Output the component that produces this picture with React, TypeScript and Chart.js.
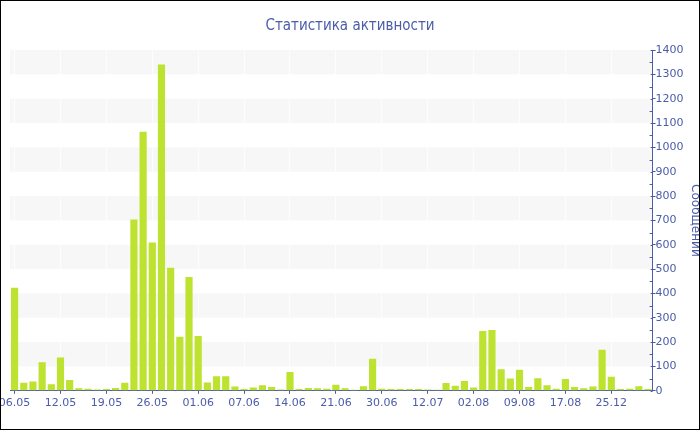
import React, { useEffect, useRef } from 'react';
import { Chart, registerables } from 'chart.js';

Chart.register(...registerables);

const chartTitle = 'Статистика активности';
const yAxisTitle = 'Сообщений';

const tickLabels = [
  '06.05', '12.05', '19.05', '26.05', '01.06', '07.06', '14.06',
  '21.06', '30.06', '12.07', '02.08', '09.08', '17.08', '25.12',
];

const values = [
  423, 33, 38, 117, 27, 137, 44, 10, 8, 5,
  7, 11, 33, 704, 1064, 609, 1340, 505, 222, 467,
  225, 34, 60, 60, 18, 7, 14, 23, 16, 5,
  77, 7, 12, 10, 8, 25, 10, 4, 19, 132,
  8, 7, 7, 7, 7, 5, 4, 32, 21, 40,
  14, 246, 250, 89, 51, 86, 16, 52, 23, 8,
  48, 16, 10, 18, 169, 58, 7, 8, 19, 7,
];

const labelEvery = 5;
const categories = values.map((_, i) => (i % labelEvery === 0 ? tickLabels[i / labelEvery] : ''));

const yMin = 0;
const yMax = 1400;
const yStep = 100;

const blue = '#4b5ca8';
const barColor = '#bde22f';
const bandColor = '#f7f7f7';
const FONT = "'DejaVu Sans', Verdana, sans-serif";
const TITLE_FONT = "'DejaVu Sans Condensed', 'DejaVu Sans', Tahoma, sans-serif";

// canvas is shifted left inside a clipping frame so edge labels get cut like the original
const CANVAS_SHIFT = 20;
const FRAME_W = 698;

const bandsPlugin = {
  id: 'bands',
  beforeDraw(chart: any) {
    const { ctx, chartArea, scales } = chart;
    const y = scales.y;
    ctx.save();
    ctx.fillStyle = bandColor;
    for (let v = yMin + yStep; v < yMax; v += 2 * yStep) {
      const top = y.getPixelForValue(v + yStep);
      const bot = y.getPixelForValue(v);
      ctx.fillRect(chartArea.left, top, chartArea.right - chartArea.left, bot - top);
    }
    ctx.restore();
  },
};

const minorTicksPlugin = {
  id: 'minorTicks',
  afterDraw(chart: any) {
    const { ctx, chartArea, scales } = chart;
    const y = scales.y;
    ctx.save();
    ctx.strokeStyle = blue;
    ctx.lineWidth = 1;
    ctx.beginPath();
    for (let v = yMin; v <= yMax; v += yStep / 2) {
      const py = Math.round(y.getPixelForValue(v)) + 0.5;
      const len = v % yStep === 0 ? 2 : 3;
      ctx.moveTo(chartArea.right - len, py);
      ctx.lineTo(chartArea.right, py);
    }
    ctx.stroke();
    ctx.restore();
  },
};

// title centred on the visible frame
const frameTitlePlugin = {
  id: 'frameTitle',
  afterDraw(chart: any) {
    const { ctx } = chart;
    ctx.save();
    ctx.fillStyle = blue;
    ctx.font = `normal 15px ${TITLE_FONT}`;
    ctx.textAlign = 'center';
    ctx.textBaseline = 'middle';
    ctx.fillText(chartTitle, CANVAS_SHIFT + FRAME_W / 2, 25.5);
    ctx.restore();
  },
};

export default function App() {
  const canvasRef = useRef<HTMLCanvasElement | null>(null);

  useEffect(() => {
    document.body.style.margin = '0';
    const canvas = canvasRef.current;
    if (!canvas) return;
    const chart = new Chart(canvas, {
      type: 'bar',
      data: {
        labels: categories,
        datasets: [
          {
            data: values,
            backgroundColor: barColor,
            borderWidth: 0,
            categoryPercentage: 1,
            barPercentage: 0.78,
          },
        ],
      },
      options: {
        animation: false,
        responsive: true,
        maintainAspectRatio: false,
        layout: { padding: { left: 29, right: 0, top: 49, bottom: 16 } },
        plugins: {
          legend: { display: false },
          tooltip: { enabled: false },
          title: { display: false },
        },
        scales: {
          x: {
            offset: true,
            grid: {
              offset: false,
              drawOnChartArea: true,
              color: (c: any) => (c.index % labelEvery === 0 ? 'rgba(255,255,255,0.75)' : 'rgba(0,0,0,0)'),
              tickColor: (c: any) => (c.index % labelEvery === 0 ? blue : 'rgba(0,0,0,0)'),
              tickLength: 3,
            },
            border: { display: true, color: blue, width: 1 },
            ticks: {
              autoSkip: false,
              maxRotation: 0,
              minRotation: 0,
              padding: 3,
              color: blue,
              font: { family: FONT, size: 11 },
            },
          },
          y: {
            position: 'right',
            min: yMin,
            max: yMax,
            grid: {
              drawOnChartArea: false,
              drawTicks: true,
              tickLength: 3,
              tickColor: blue,
            },
            border: { display: true, color: blue, width: 1 },
            ticks: {
              stepSize: yStep,
              padding: 0,
              color: blue,
              font: { family: FONT, size: 11 },
              callback: (v: any) => String(v),
            },
            title: {
              display: true,
              text: yAxisTitle,
              color: blue,
              font: { family: FONT, size: 12 },
              padding: { top: 4, bottom: 4 },
            },
          },
        },
      },
      plugins: [bandsPlugin, minorTicksPlugin, frameTitlePlugin],
    });
    return () => chart.destroy();
  }, []);

  return (
    <div
      style={{
        position: 'relative',
        width: 700,
        height: 430,
        boxSizing: 'border-box',
        border: '1px solid #000',
        overflow: 'hidden',
        background: '#fff',
      }}
    >
      <div style={{ position: 'absolute', left: -CANVAS_SHIFT, top: 0, width: 725, height: 428 }}>
        <canvas ref={canvasRef} />
      </div>
    </div>
  );
}
